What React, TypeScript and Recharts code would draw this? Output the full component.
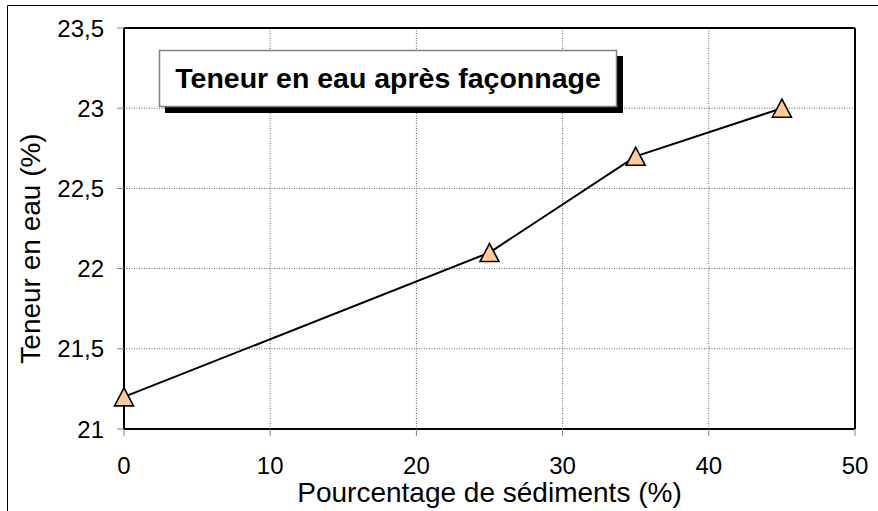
import React from 'react';
import { LineChart, Line, XAxis, YAxis, CartesianGrid, ReferenceLine, Label } from 'recharts';

const sediments = [0, 25, 35, 45];
const teneurEau = [21.2, 22.1, 22.7, 23.0];
const xTicks = [0, 10, 20, 30, 40, 50];
const yTicks = [21, 21.5, 22, 22.5, 23, 23.5];
const chartTitle = 'Teneur en eau après façonnage';
const xTitle = 'Pourcentage de sédiments (%)';
const yTitle = 'Teneur en eau (%)';

const data = sediments.map((s, i) => ({ s, v: teneurEau[i] }));

const FONT = '"Liberation Sans", Arial, sans-serif';

const Triangle = (props: any) => {
  const { cx, cy } = props;
  if (cx == null || cy == null) return null;
  const w = 19;
  const h = 18;
  return (
    <path
      d={`M${cx},${cy - h / 2} L${cx + w / 2},${cy + h / 2} L${cx - w / 2},${cy + h / 2} Z`}
      fill="#FFCC99"
      stroke="#000"
      strokeWidth={1.6}
    />
  );
};

const YTitle = (props: any) => {
  const vb = props.viewBox || {};
  const x = (vb.x ?? 0) + 40;
  const y = (vb.y ?? 0) + (vb.height ?? 0) / 2 + 20;
  return (
    <text
      x={x}
      y={y}
      transform={`rotate(-90 ${x} ${y})`}
      textAnchor="middle"
      fontSize={28}
      fontFamily={FONT}
      fill="#000"
    >
      {yTitle}
    </text>
  );
};

const fmt = (v: number) => String(v).replace('.', ',');

export default function App() {
  return (
    <div style={{ position: 'absolute', left: 0, top: 0, width: 878, height: 511, background: '#fff' }}>
      <LineChart
        width={878}
        height={511}
        data={data}
        margin={{ top: 28, right: 23, bottom: 0, left: 0 }}
        style={{ fontFamily: FONT }}
      >
        <CartesianGrid stroke="#666666" strokeDasharray="1 1.5" strokeWidth={1} />
        <XAxis
          dataKey="s"
          type="number"
          domain={[0, 50]}
          ticks={xTicks}
          height={82}
          tickSize={7}
          tickMargin={21}
          axisLine={{ stroke: '#000', strokeWidth: 2 }}
          tickLine={{ stroke: '#808080', strokeWidth: 1 }}
          tick={{ fill: '#000', fontSize: 24, fontFamily: FONT }}
          interval={0}
        >
          <Label
            value={xTitle}
            position="insideBottom"
            offset={9}
            style={{ fontSize: 28, fontFamily: FONT, fill: '#000' }}
          />
        </XAxis>
        <YAxis
          type="number"
          domain={[21, 23.5]}
          ticks={yTicks}
          width={124}
          tickSize={7}
          tickMargin={13}
          tickFormatter={fmt}
          axisLine={{ stroke: '#000', strokeWidth: 2 }}
          tickLine={{ stroke: '#808080', strokeWidth: 1 }}
          tick={{ fill: '#000', fontSize: 24, fontFamily: FONT }}
          interval={0}
        >
          <Label content={<YTitle />} />
        </YAxis>
        <ReferenceLine y={23.5} stroke="#000" strokeWidth={2} />
        <ReferenceLine x={50} stroke="#000" strokeWidth={2} />
        <Line
          dataKey="v"
          stroke="#000"
          strokeWidth={2}
          dot={<Triangle />}
          activeDot={false}
          isAnimationActive={false}
        />
      </LineChart>
      <svg
        width={878}
        height={511}
        style={{ position: 'absolute', left: 0, top: 0, pointerEvents: 'none' }}
      >
        <line x1={7.5} y1={5.5} x2={878} y2={5.5} stroke="#000" strokeWidth={1} />
        <line x1={7.5} y1={5.5} x2={7.5} y2={511} stroke="#000" strokeWidth={1} />
        <rect x={165} y={56} width={458} height={57} fill="#000" />
        <rect x={159.5} y={50.5} width={457} height={56} fill="#fff" stroke="#808080" strokeWidth={1.5} />
        <text
          x={388}
          y={88}
          textAnchor="middle"
          fontSize={28.5}
          fontWeight="bold"
          fontFamily={FONT}
          fill="#000"
        >
          {chartTitle}
        </text>
      </svg>
    </div>
  );
}
